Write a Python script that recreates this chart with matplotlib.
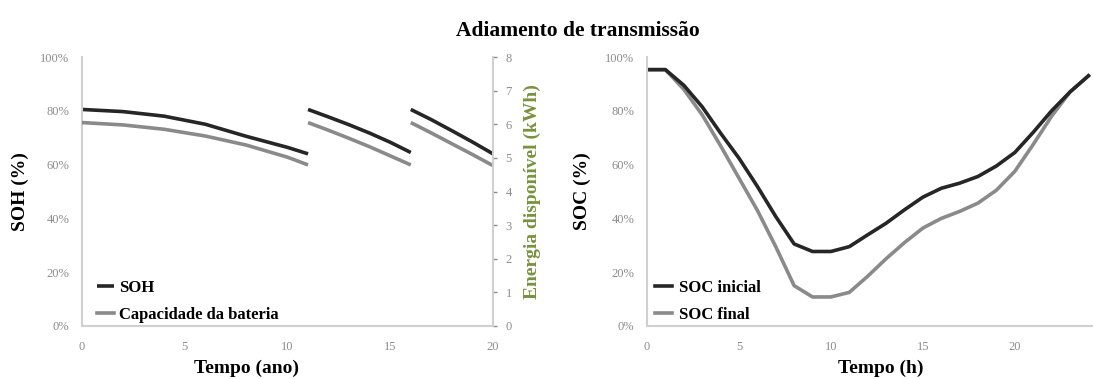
import matplotlib
matplotlib.use("Agg")
import matplotlib.pyplot as plt
import numpy as np

plt.rcParams['font.family'] = ['Liberation Serif', 'DejaVu Serif']

# ---- data: left panel (years) ----
seg_years = [
    [0, 2, 4, 6, 8, 10, 11],
    [11, 12, 13, 14, 15, 16],
    [16, 17, 18, 19, 20],
]
soh_pct = [
    [80.5, 79.7, 78.0, 75.0, 70.5, 66.4, 64.0],
    [80.5, 77.7, 74.8, 71.7, 68.3, 64.5],
    [80.5, 76.7, 72.6, 68.4, 64.0],
]
cap_kwh = [
    [6.05, 5.98, 5.85, 5.65, 5.38, 5.02, 4.79],
    [6.05, 5.82, 5.58, 5.33, 5.06, 4.79],
    [6.05, 5.74, 5.42, 5.10, 4.77],
]

# ---- data: right panel (hours) ----
hours = list(range(25))
soc_inicial = [95.3, 95.3, 89.5, 81.5, 71.7, 62.4, 51.9, 40.7, 30.5, 27.7, 27.7,
               29.5, 33.9, 38.2, 43.2, 47.9, 51.2, 53.1, 55.6, 59.5, 64.5, 72.0,
               80.0, 87.0, 93.0]
soc_final = [95.3, 95.3, 88.0, 78.5, 67.0, 55.0, 43.0, 29.5, 15.0, 10.8, 10.8,
             12.5, 18.5, 25.0, 31.0, 36.4, 40.0, 42.6, 45.7, 50.5, 57.5, 67.5,
             78.0, 87.0, 93.0]

title = "Adiamento de transmissão"
pct_ticks = [0, 20, 40, 60, 80, 100]
kwh_ticks = [0, 1, 2, 3, 4, 5, 6, 7, 8]
year_ticks = [0, 5, 10, 15, 20]
hour_ticks = [0, 5, 10, 15, 20]

DARK = '#262626'
GRAY = '#8a8a8a'
SPINE = '#d0d0d0'
TICKC = '#8c8c8c'
OLIVE = '#77933C'

W, H = 1093, 379
fig = plt.figure(figsize=(W / 100, H / 100), dpi=100)

def px_axes(x0, x1, ytop, ybot):
    return fig.add_axes([x0 / W, (H - ybot) / H, (x1 - x0) / W, (ybot - ytop) / H])

def style(ax):
    for s in ['top', 'right']:
        ax.spines[s].set_visible(False)
    for s in ['left', 'bottom']:
        ax.spines[s].set_color(SPINE)
        ax.spines[s].set_linewidth(1.5)
    ax.tick_params(axis='both', length=0, colors=TICKC, labelsize=9)
    ax.tick_params(axis='x', pad=11)
    ax.tick_params(axis='y', pad=9)
    ax.set_ylim(0, 100)
    ax.set_yticks(pct_ticks)
    ax.set_yticklabels([f"{v}%" for v in pct_ticks])

# ---- left panel ----
ax1 = px_axes(82, 493, 57, 326)
style(ax1)
ax1.set_xlim(0, 20)
ax1.set_xticks(year_ticks)
ax2 = ax1.twinx()
ax2.set_ylim(0, 8)
ax2.set_yticks(kwh_ticks)
for s in ['top', 'left', 'bottom']:
    ax2.spines[s].set_visible(False)
ax2.spines['right'].set_color(SPINE)
ax2.spines['right'].set_linewidth(1.5)
ax2.tick_params(axis='y', length=3, width=1, colors=TICKC, labelsize=9, pad=6)

for i, (t, s) in enumerate(zip(seg_years, soh_pct)):
    ax1.plot(t, s, color=DARK, lw=2.6, solid_capstyle='butt',
             label='SOH' if i == 0 else None)
for i, (t, c) in enumerate(zip(seg_years, cap_kwh)):
    ax2.plot(t, c, color=GRAY, lw=2.6, solid_capstyle='butt')
ax1.plot([], [], color=GRAY, lw=2.6, label='Capacidade da bateria')

ax1.set_xlabel("Tempo (ano)", fontsize=14, fontweight='bold')
ax1.xaxis.set_label_coords(0.40, -0.125)
ax1.set_ylabel("SOH (%)", fontsize=14, fontweight='bold')
ax1.yaxis.set_label_coords(-0.128, 0.5)
ax2.set_ylabel("Energia disponível (kWh)", fontsize=14, fontweight='bold', color=OLIVE)
ax2.yaxis.set_label_coords(1.075, 0.5)
ax1.legend(loc='lower left', bbox_to_anchor=(0.0, -0.045), frameon=False,
           handlelength=1.0, handletextpad=0.3, labelspacing=0.65,
           prop={'weight': 'bold', 'size': 12})

# ---- right panel ----
ax3 = px_axes(647, 1093, 57, 326)
style(ax3)
ax3.set_xlim(0, 24.25)
ax3.set_xticks(hour_ticks)
ax3.plot(hours, soc_final, color=GRAY, lw=2.6, label='SOC final')
ax3.plot(hours, soc_inicial, color=DARK, lw=2.6, label='SOC inicial')
h, l = ax3.get_legend_handles_labels()
ax3.legend(h[::-1], l[::-1], loc='lower left', bbox_to_anchor=(-0.015, -0.045), frameon=False,
           handlelength=1.0, handletextpad=0.4, labelspacing=0.65,
           prop={'weight': 'bold', 'size': 12})
ax3.set_xlabel("Tempo (h)", fontsize=14, fontweight='bold')
ax3.xaxis.set_label_coords(0.525, -0.125)
ax3.set_ylabel("SOC (%)", fontsize=14, fontweight='bold')
ax3.yaxis.set_label_coords(-0.125, 0.5)

fig.text(578 / W, 1 - 31 / H, title, ha='center', va='center',
         fontsize=15.5, fontweight='bold')

fig.savefig("out.png", dpi=100)
